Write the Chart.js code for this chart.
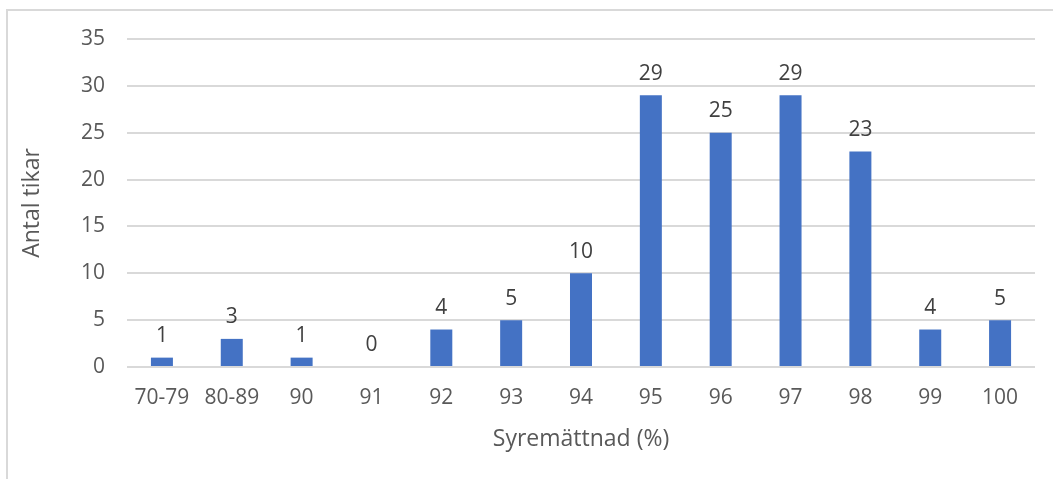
<!DOCTYPE html>
<html>
<head>
<meta charset="utf-8">
<script src="https://cdn.jsdelivr.net/npm/chart.js@4/dist/chart.umd.min.js"></script>
<style>
  html, body { margin: 0; padding: 0; background: #fff; }
  #wrap { position: relative; width: 1053px; height: 479px; overflow: hidden; }
  #frame { position: absolute; left: 6px; top: 9px; width: 1100px; height: 520px;
           border: 2px solid #d9d9d9; box-sizing: border-box; }
  canvas { position: absolute; left: 0; top: 0; }
</style>
</head>
<body>
<div id="wrap">
  <div id="frame"></div>
  <canvas id="c" width="1053" height="479"></canvas>
</div>
<script>
const categories = ['70-79', '80-89', '90', '91', '92', '93', '94', '95', '96', '97', '98', '99', '100'];
const counts = [1, 3, 1, 0, 4, 5, 10, 29, 25, 29, 23, 4, 5];
const yTicks = [0, 5, 10, 15, 20, 25, 30, 35];

const FONT = "'Open Sans', 'DejaVu Sans', sans-serif";

// Writes each bar's value above it
const valueLabels = {
  id: 'valueLabels',
  afterDatasetsDraw(chart) {
    const ctx = chart.ctx;
    const meta = chart.getDatasetMeta(0);
    ctx.save();
    ctx.font = `21px ${FONT}`;
    ctx.fillStyle = '#404040';
    ctx.textAlign = 'center';
    ctx.textBaseline = 'bottom';
    meta.data.forEach((bar, i) => {
      ctx.fillText(String(counts[i]), bar.x, bar.y - 11);
    });
    ctx.restore();
  }
};

new Chart(document.getElementById('c'), {
  type: 'bar',
  data: {
    labels: categories,
    datasets: [{
      data: counts,
      backgroundColor: '#4472C4',
      borderWidth: 0,
      categoryPercentage: 1,
      barPercentage: 0.315
    }]
  },
  options: {
    responsive: false,
    animation: false,
    layout: { padding: { top: 39, right: 18, bottom: 0, left: 0 } },
    plugins: { legend: { display: false }, tooltip: { enabled: false } },
    scales: {
      x: {
        grid: { display: false, drawTicks: false },
        border: { display: false },
        ticks: { color: '#595959', font: { family: FONT, size: 21 }, padding: 18, maxRotation: 0 },
        title: { display: true, text: 'Syremättnad (%)', color: '#595959',
                 font: { family: FONT, size: 23 }, padding: { top: 26, bottom: 26 } },
        afterFit(scale) { scale.height = 112; }
      },
      y: {
        min: 0, max: 35,
        afterBuildTicks(scale) { scale.ticks = yTicks.map(v => ({ value: v })); },
        grid: { color: '#d9d9d9', lineWidth: 2, drawTicks: false },
        border: { display: false },
        ticks: { color: '#595959', font: { family: FONT, size: 21 }, padding: 22 },
        title: { display: true, text: 'Antal tikar', color: '#595959',
                 font: { family: FONT, size: 23 }, padding: { top: 19, bottom: 19 } },
        afterFit(scale) { scale.width = 127; }
      }
    }
  },
  plugins: [valueLabels]
});
</script>
</body>
</html>
